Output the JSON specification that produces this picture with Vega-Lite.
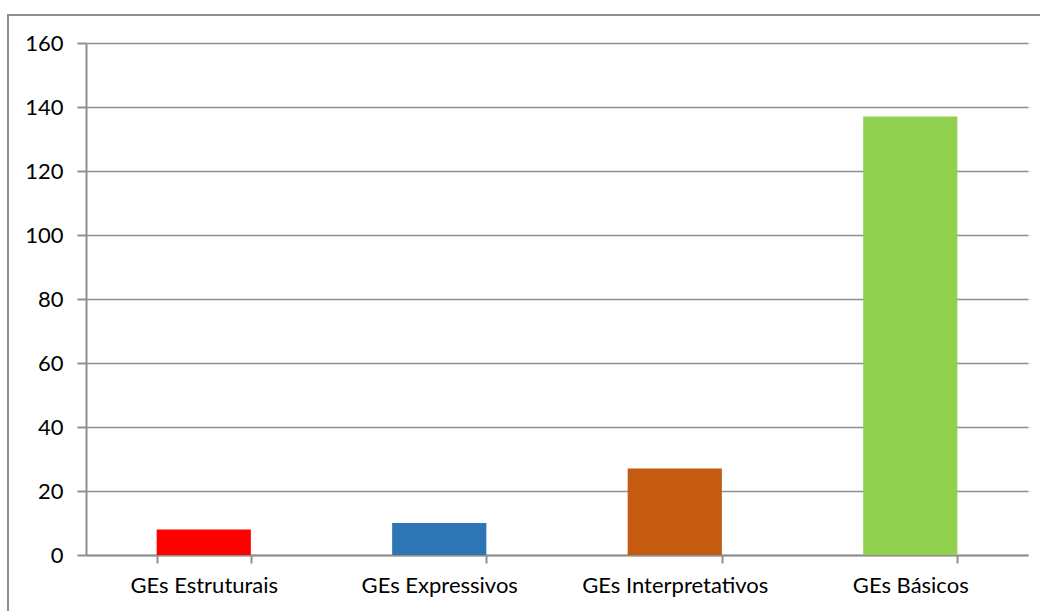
{
  "$schema": "https://vega.github.io/schema/vega-lite/v6.json",
  "width": 1040,
  "height": 600,
  "autosize": {"type": "none"},
  "padding": {"left": 8, "top": 15, "right": 0, "bottom": 0},
  "background": "#ffffff",
  "config": {
    "view": {"stroke": "#8e8e8e", "strokeWidth": 2},
    "font": "Lato",
    "axis": {
      "labelFont": "Lato",
      "labelFontSize": 22,
      "labelColor": "#000000",
      "labelLimit": 0,
      "labelOverlap": false,
      "domainColor": "#8e8e8e",
      "domainWidth": 2,
      "tickColor": "#8e8e8e",
      "tickWidth": 2,
      "gridColor": "#8e8e8e",
      "gridWidth": 1.5,
      "gridOpacity": 1,
      "title": null
    }
  },
  "data": {
    "values": [
      {"categoria": "GEs Estruturais", "valor": 8},
      {"categoria": "GEs Expressivos", "valor": 10},
      {"categoria": "GEs Interpretativos", "valor": 27},
      {"categoria": "GEs Básicos", "valor": 137}
    ]
  },
  "mark": {"type": "bar", "cornerRadius": 0},
  "encoding": {
    "x": {
      "field": "categoria",
      "type": "nominal",
      "sort": null,
      "scale": {"range": [78, 1020], "paddingInner": 0.6, "paddingOuter": 0.3},
      "axis": {
        "labelAngle": 0,
        "offset": -60,
        "tickBand": "extent",
        "tickSize": 8,
        "labelPadding": 12,
        "grid": false
      }
    },
    "y": {
      "field": "valor",
      "type": "quantitative",
      "scale": {"domain": [0, 160], "nice": false, "range": [540, 28]},
      "axis": {
        "values": [0, 20, 40, 60, 80, 100, 120, 140, 160],
        "offset": -78,
        "tickSize": 9,
        "labelPadding": 14,
        "grid": true
      }
    },
    "color": {
      "field": "categoria",
      "type": "nominal",
      "sort": null,
      "scale": {
        "domain": ["GEs Estruturais", "GEs Expressivos", "GEs Interpretativos", "GEs Básicos"],
        "range": ["#ff0000", "#2e75b6", "#c55a11", "#92d050"]
      },
      "legend": null
    }
  }
}
